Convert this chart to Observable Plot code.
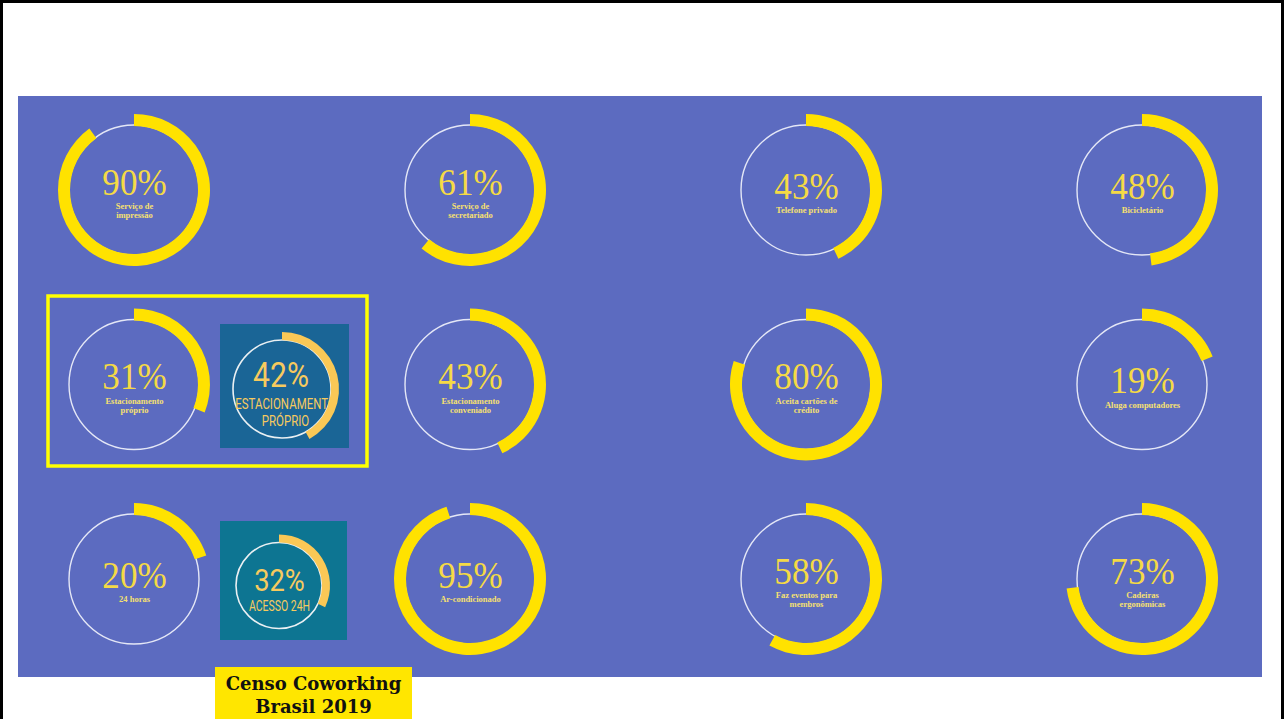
<!DOCTYPE html>
<html>
<head>
<meta charset="utf-8">
<script src="https://cdn.jsdelivr.net/npm/d3@7"></script>
<script src="https://cdn.jsdelivr.net/npm/@observablehq/plot@0.6"></script>
<style>
  html, body { margin: 0; padding: 0; background: #fff; }
  #frame { position: relative; width: 1284px; height: 719px; box-sizing: border-box; border: 3px solid #000; border-bottom: none; overflow: hidden; background: #fff; }
  #panel { position: absolute; left: 15px; top: 93px; width: 1244px; height: 581px; }
  #panel svg { display: block; }
  #caption { position: absolute; left: 212px; top: 664px; width: 197px; height: 60px; background: #ffe600; color: #111; font-family: "DejaVu Serif", serif; font-weight: bold; font-size: 18px; line-height: 23px; text-align: center; padding-top: 5px; box-sizing: border-box; }
</style>
</head>
<body>
<div id="frame">
  <div id="panel"></div>
  <div id="caption">Censo Coworking<br>Brasil 2019</div>
</div>
<script>
// ---- data ----
const labels = [
  "Serviço de\nimpressão", "Serviço de\nsecretariado", "Telefone privado", "Bicicletário",
  "Estacionamento\npróprio", "Estacionamento\nconveniado", "Aceita cartões de\ncrédito", "Aluga computadores",
  "24 horas", "Ar-condicionado", "Faz eventos para\nmembros", "Cadeiras\nergonômicas"
];
const values = [90, 61, 43, 48, 31, 43, 80, 19, 20, 95, 58, 73];
const insetLabels = ["ESTACIONAMENTO\nPRÓPRIO", "ACESSO 24H"];
const insetValues = [42, 32];
const insetOf = [4, 8];      // main item each inset is compared with
const highlighted = [4];     // main items framed with a yellow box

// ---- derived tables ----
const COLS = 4;
const items = labels.map((label, i) => ({label, value: values[i], col: i % COLS, row: Math.floor(i / COLS)}));
const insets = insetValues.map((value, k) => ({label: insetLabels[k], value, k, col: items[insetOf[k]].col, row: items[insetOf[k]].row}));
const framed = highlighted.map(i => items[i]);

// ---- styles ----
const SERIF = "'Liberation Serif', 'Times New Roman', serif";
const COND = "Roboto, 'Liberation Sans', sans-serif";
const ARC = "#ffe200", PCT = "#f5da45", LBL = "#f6e070", RING = "#e4e7f6";
const INSET_ARC = "#fac856", INSET_TXT = "#f7ca5e", INSET_RING = "#eaf0f3";
const insetStyle = [
  {dx: 148, dy: 4.5, r0: 49, r1: 57, box: [-62, -65, 129, 124], fill: "#1a6596"},
  {dx: 145, dy: 6.5, r0: 43, r1: 51, box: [-59, -64.5, 127, 119], fill: "#0d7592"}
];

const svgNS = "http://www.w3.org/2000/svg";
function el(doc, name, attrs) {
  const e = doc.createElementNS(svgNS, name);
  for (const k in attrs) e.setAttribute(k, attrs[k]);
  return e;
}
function shapeMark(data, draw) {
  return Plot.dot(data, {x: "col", y: "row", render(index, scales, values, dims, ctx) {
    const g = el(ctx.document, "g", {});
    for (const i of index) draw(g, data[i], values.x[i], values.y[i], ctx.document);
    return g;
  }});
}
function squeeze(k) {
  return function(index, scales, values, dims, ctx, next) {
    const g = next(index, scales, values, dims, ctx);
    for (const t of g.querySelectorAll("text")) {
      t.setAttribute("transform", `${t.getAttribute("transform") || ""} scale(${k},1)`);
    }
    return g;
  };
}
const arcPath = d3.arc();
const one = d => !d.label.includes("\n");
const two = d => d.label.includes("\n");

const chart = Plot.plot({
  width: 1244, height: 581, margin: 0,
  x: {domain: [0, 3], range: [116, 1124], axis: null},
  y: {domain: [0, 2], range: [94, 483], axis: null},
  style: {background: "#5c6bc0", overflow: "visible"},
  marks: [
    // highlight frame
    shapeMark(framed, (g, d, cx, cy, doc) => {
      g.appendChild(el(doc, "rect", {x: cx - 86, y: cy - 88.5, width: 319, height: 170, fill: "none", stroke: "#ffff00", "stroke-width": 3.5}));
    }),
    // thin rings
    shapeMark(items, (g, d, cx, cy, doc) => {
      g.appendChild(el(doc, "circle", {cx, cy, r: 65, fill: "none", stroke: RING, "stroke-width": 1.4}));
    }),
    // value arcs
    shapeMark(items, (g, d, cx, cy, doc) => {
      g.appendChild(el(doc, "path", {
        d: arcPath({innerRadius: 64, outerRadius: 76, startAngle: 0, endAngle: d.value / 100 * 2 * Math.PI}),
        transform: `translate(${cx},${cy})`, fill: ARC
      }));
    }),
    // percentages
    Plot.text(items, {filter: one, x: "col", y: "row", text: d => `${d.value}%`, lineAnchor: "bottom", dy: 8, fontSize: 39, fontFamily: SERIF, fill: PCT, render: squeeze(0.9)}),
    Plot.text(items, {filter: two, x: "col", y: "row", text: d => `${d.value}%`, lineAnchor: "bottom", dy: 4, fontSize: 39, fontFamily: SERIF, fill: PCT, render: squeeze(0.9)}),
    // labels
    Plot.text(items, {filter: one, x: "col", y: "row", text: "label", lineAnchor: "top", dy: 16, fontSize: 8.5, lineHeight: 1.1, fontWeight: "bold", fontFamily: SERIF, fill: LBL}),
    Plot.text(items, {filter: two, x: "col", y: "row", text: "label", lineAnchor: "top", dy: 12, fontSize: 8.5, lineHeight: 1.1, fontWeight: "bold", fontFamily: SERIF, fill: LBL}),
    // inset boxes and rings
    shapeMark(insets, (g, d, cx, cy, doc) => {
      const s = insetStyle[d.k];
      const x = cx + s.dx, y = cy + s.dy;
      g.appendChild(el(doc, "rect", {x: x + s.box[0], y: y + s.box[1], width: s.box[2], height: s.box[3], fill: s.fill}));
      g.appendChild(el(doc, "circle", {cx: x, cy: y, r: s.r0, fill: "none", stroke: INSET_RING, "stroke-width": 1.6}));
    }),
    // inset texts
    Plot.text(insets, {filter: two, x: "col", y: "row", text: d => `${d.value}%`, lineAnchor: "bottom", dx: 146.5, dy: 2.2, fontSize: 35, fontFamily: COND, fill: INSET_TXT, render: squeeze(0.86)}),
    Plot.text(insets, {filter: two, x: "col", y: "row", text: "label", lineAnchor: "top", dx: 151, dy: 11.1, fontSize: 15.5, lineHeight: 1.13, fontFamily: COND, fill: INSET_TXT, render: squeeze(0.74)}),
    Plot.text(insets, {filter: one, x: "col", y: "row", text: d => `${d.value}%`, lineAnchor: "bottom", dx: 145, dy: 11, fontSize: 31, fontFamily: COND, fill: INSET_TXT, render: squeeze(0.88)}),
    Plot.text(insets, {filter: one, x: "col", y: "row", text: "label", lineAnchor: "top", dx: 145, dy: 21.1, fontSize: 14, fontFamily: COND, fill: INSET_TXT, render: squeeze(0.75)}),
    // inset arcs (on top of text)
    shapeMark(insets, (g, d, cx, cy, doc) => {
      const s = insetStyle[d.k];
      g.appendChild(el(doc, "path", {
        d: arcPath({innerRadius: s.r0, outerRadius: s.r1, startAngle: 0, endAngle: d.value / 100 * 2 * Math.PI}),
        transform: `translate(${cx + s.dx},${cy + s.dy})`, fill: INSET_ARC
      }));
    })
  ]
});
document.getElementById("panel").appendChild(chart);
</script>
</body>
</html>
